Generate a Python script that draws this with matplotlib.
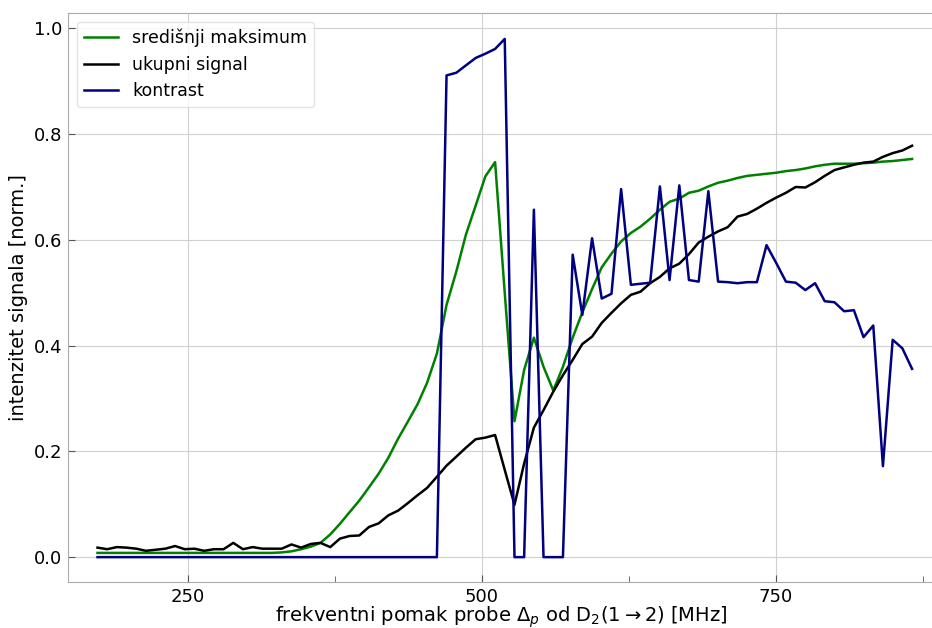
import numpy as np
import matplotlib
matplotlib.use("Agg")
import matplotlib.pyplot as plt
from matplotlib.ticker import MultipleLocator

# frekvencije probe [MHz]
frekvencija = [173.1, 181.3, 189.6, 197.8, 206.1, 214.3, 222.6, 230.8, 239.1, 247.3,
               255.6, 263.8, 272.1, 280.3, 288.6, 296.8, 305.1, 313.3, 321.6, 329.8,
               338.1, 346.3, 354.6, 362.8, 371.1, 379.3, 387.5, 395.8, 404.0, 412.3,
               420.5, 428.8, 437.0, 445.3, 453.5, 461.8, 470.0, 478.3, 486.5, 494.8,
               503.0, 511.3, 519.5, 527.8, 536.0, 544.3, 552.5, 560.8, 569.0, 577.3,
               585.5, 593.8, 602.0, 610.3, 618.5, 626.8, 635.0, 643.2, 651.5, 659.7,
               668.0, 676.2, 684.5, 692.7, 701.0, 709.2, 717.5, 725.7, 734.0, 742.2,
               750.5, 758.7, 767.0, 775.2, 783.5, 791.7, 800.0, 808.2, 816.5, 824.7,
               833.0, 841.2, 849.5, 857.7, 866.0]

srednji = [0.008, 0.008, 0.008, 0.008, 0.008, 0.008, 0.008, 0.008, 0.008, 0.008,
           0.008, 0.008, 0.008, 0.008, 0.008, 0.008, 0.008, 0.008, 0.008, 0.009,
           0.011, 0.015, 0.020, 0.027, 0.043, 0.063, 0.085, 0.107, 0.132, 0.158,
           0.188, 0.224, 0.256, 0.289, 0.330, 0.385, 0.477, 0.540, 0.610, 0.665,
           0.720, 0.747, 0.500, 0.257, 0.354, 0.415, 0.360, 0.315, 0.360, 0.415,
           0.463, 0.507, 0.548, 0.574, 0.597, 0.613, 0.625, 0.640, 0.657, 0.672,
           0.678, 0.689, 0.693, 0.701, 0.708, 0.712, 0.717, 0.721, 0.723, 0.725,
           0.727, 0.730, 0.732, 0.735, 0.739, 0.742, 0.744, 0.744, 0.744, 0.745,
           0.746, 0.748, 0.749, 0.751, 0.753]

ukupni = [0.018, 0.015, 0.019, 0.018, 0.016, 0.012, 0.014, 0.016, 0.021, 0.015,
          0.016, 0.012, 0.015, 0.015, 0.027, 0.015, 0.019, 0.016, 0.016, 0.016,
          0.024, 0.018, 0.025, 0.027, 0.019, 0.035, 0.040, 0.041, 0.057, 0.064,
          0.079, 0.088, 0.102, 0.117, 0.131, 0.152, 0.173, 0.190, 0.207, 0.223,
          0.226, 0.231, 0.165, 0.099, 0.177, 0.245, 0.278, 0.313, 0.344, 0.373,
          0.403, 0.417, 0.443, 0.462, 0.480, 0.496, 0.502, 0.518, 0.530, 0.546,
          0.555, 0.573, 0.595, 0.606, 0.616, 0.624, 0.644, 0.649, 0.659, 0.670,
          0.680, 0.689, 0.700, 0.699, 0.709, 0.721, 0.732, 0.737, 0.742, 0.746,
          0.748, 0.757, 0.764, 0.769, 0.778]

kontrast = [0.0] * 36 + [
    0.911, 0.916, 0.930, 0.944, 0.952, 0.961, 0.980, 0.0, 0.0, 0.657,
    0.0, 0.0, 0.0, 0.572, 0.458, 0.603, 0.489, 0.498, 0.696, 0.515,
    0.517, 0.519, 0.701, 0.524, 0.703, 0.524, 0.521, 0.692, 0.521, 0.520,
    0.518, 0.520, 0.520, 0.590, 0.556, 0.521, 0.519, 0.505, 0.518, 0.484,
    0.482, 0.465, 0.467, 0.416, 0.438, 0.172, 0.411, 0.395, 0.356]


fig = plt.figure(figsize=(9.32, 6.28), dpi=100)
ax = fig.add_axes([68/932, 46/628, 867/932, 569/628])

ax.plot(frekvencija, srednji, color='green', lw=1.8, label='središnji maksimum')
ax.plot(frekvencija, ukupni, color='black', lw=1.8, label='ukupni signal')
ax.plot(frekvencija, kontrast, color='navy', lw=1.8, label='kontrast')

ax.set_xlim(148, 885.5)
ax.set_ylim(-0.047, 1.029)
ax.xaxis.set_major_locator(MultipleLocator(250))
ax.xaxis.set_minor_locator(MultipleLocator(125))
ax.yaxis.set_major_locator(MultipleLocator(0.2))

ax.grid(True, which='major', color='#d0d0d0', lw=0.8)
ax.tick_params(which='both', direction='in', colors='#555555', labelcolor='black', labelsize=13)
ax.tick_params(which='major', length=5, pad=4)
ax.tick_params(which='minor', length=4)
for s in ax.spines.values():
    s.set_color('#aaaaaa')

ax.set_xlabel(r'frekventni pomak probe $\Delta_p$ od D$_2$(1$\rightarrow$2) [MHz]', fontsize=14, labelpad=-1)
ax.set_ylabel('intenzitet signala [norm.]', fontsize=14, labelpad=4)
ax.legend(loc='upper left', fontsize=12.5, framealpha=0.8, edgecolor='#dddddd')

fig.savefig('out.png', dpi=100)
